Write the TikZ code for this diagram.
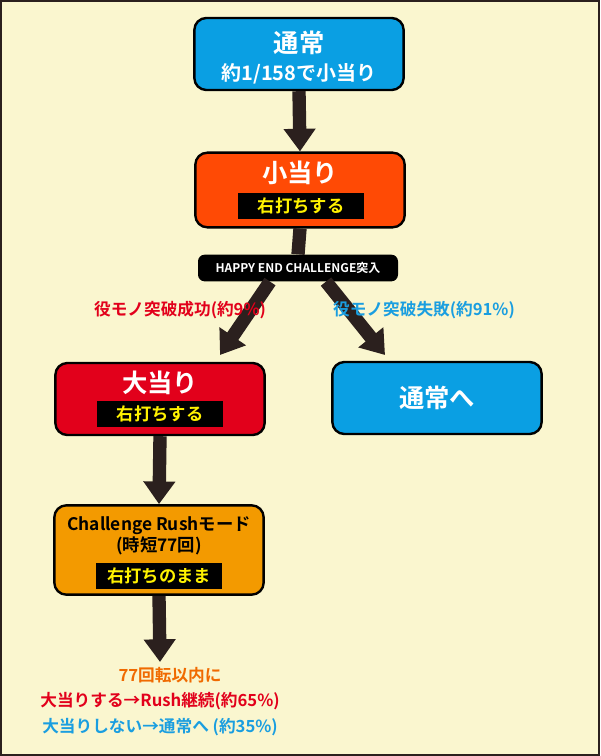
\documentclass[tikz,border=0pt]{standalone}
\usepackage{fontspec}
\setmainfont{Noto Sans CJK JP}[BoldFont={Noto Sans CJK JP Bold}]
\usetikzlibrary{positioning, arrows.meta}
\definecolor{bgcream}{HTML}{FAF6CF}
\definecolor{flowblue}{HTML}{0A9FE3}
\definecolor{flowred}{HTML}{FF4A05}
\definecolor{bigred}{HTML}{E2001B}
\definecolor{rushorange}{HTML}{F39A00}
\definecolor{arrowdark}{HTML}{2B201E}
\definecolor{txtred}{HTML}{E2001B}
\definecolor{txtblue}{HTML}{1A9EE0}
\definecolor{txtorange}{HTML}{F06A00}
\tikzset{
  box/.style = {draw=black, line width=1.8pt, rounded corners=9pt,
    minimum width=157pt, minimum height=54pt, inner sep=0pt},
  tag/.style = {fill=black, text=yellow, font=\bfseries\fontsize{13}{13}\selectfont,
    minimum width=94pt, minimum height=20pt, inner sep=0pt},
  flow/.style = {draw=arrowdark, line width=10pt,
    -{Triangle[width=23pt,length=17pt]}},
  note/.style = {font=\bfseries\fontsize{12.5}{12.5}\selectfont}
}
\begin{document}
\begin{tikzpicture}[x=0.75pt, y=-0.75pt]
  \useasboundingbox (0,0) rectangle (600,756);
  \draw[fill=bgcream, draw=arrowdark, line width=1.5pt] (1,1) rectangle (599,755);

  \node[box, fill=flowblue, minimum height=54pt] (normal) at (299,54) {};
  \node[text=white, font=\bfseries\fontsize{19}{19}\selectfont] at (299,43) {通常};
  \node[text=white, font=\bfseries\fontsize{15}{15}\selectfont] at (299,74) {約1/158で小当り};

  \node[box, fill=flowred, minimum height=56pt] (small) at (300,190) {};
  \node[text=white, font=\bfseries\fontsize{19}{19}\selectfont] at (300,173) {小当り};
  \node[tag] (smalltag) at (301,206) {右打ちする};

  \node[fill=black, text=white, rounded corners=5pt, minimum width=150pt, minimum height=20pt,
    inner sep=0pt, font=\bfseries\fontsize{9}{9}\selectfont] (happy) at (298,268)
    {HAPPY END CHALLENGE突入};

  \node[box, fill=bigred] (big) at (160,399) {};
  \node[text=white, font=\bfseries\fontsize{19}{19}\selectfont] at (160,383) {大当り};
  \node[tag] (bigtag) at (160,414) {右打ちする};

  \node[box, fill=flowblue, text=white, font=\bfseries\fontsize{19}{19}\selectfont]
    (back) at (437,398) {通常へ};

  \node[box, fill=rushorange, minimum height=67pt] (rush) at (159,550) {};
  \node[font=\bfseries\fontsize{13}{13}\selectfont, align=center] at (159,536)
    {Challenge Rushモード\\[1pt](時短77回)};
  \node[tag] (rushtag) at (159,576) {右打ちのまま};

  \coordinate (leftend) at (220,355);
  \coordinate (rightend) at (385,355);
  \coordinate (rushend) at (160,662);

  \draw[flow] (normal.south) -- (small.north);
  \draw[draw=arrowdark, line width=10pt] (small.south) -- (happy.north);
  \draw[flow] (happy.south-|270,0) -- (leftend);
  \draw[flow] (happy.south-|326,0) -- (rightend);
  \draw[flow] (big.south) -- (rush.north);
  \draw[flow] (rush.south) -- (rushend);

  \node[note, text=txtred] at (180,310) {役モノ突破成功(約9\%)};
  \node[note, text=txtblue] at (424,310) {役モノ突破失敗(約91\%)};

  \node[note, text=txtorange] at (170,675) {77回転以内に};
  \node[note, text=txtred] at (160,701) {大当りする→Rush継続(約65\%)};
  \node[note, text=txtblue] at (160,727) {大当りしない→通常へ (約35\%)};
\end{tikzpicture}
\end{document}
